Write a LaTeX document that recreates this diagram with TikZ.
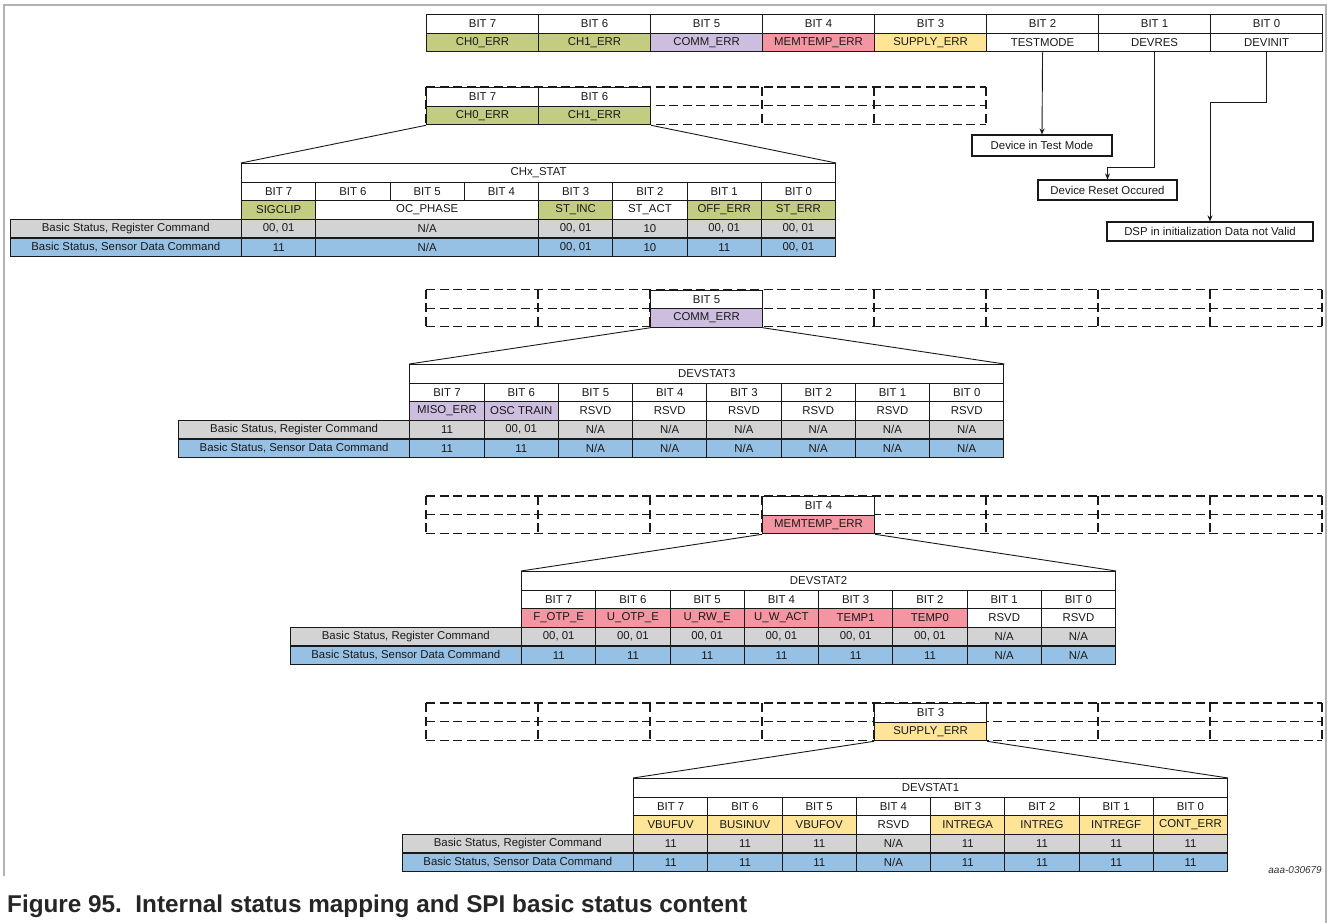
\documentclass[tikz,border=0pt]{standalone}
\usepackage{fontspec}
\setmainfont{Liberation Sans}
\usetikzlibrary{positioning,arrows.meta}

\definecolor{olv}{RGB}{196,204,130}
\definecolor{prp}{RGB}{205,190,224}
\definecolor{pnk}{RGB}{244,150,162}
\definecolor{ylw}{RGB}{253,228,150}
\definecolor{gry}{RGB}{211,211,211}
\definecolor{blu}{RGB}{150,193,229}
\newcommand{\nacell}{N/A}
\newcommand{\zocell}{00, 01}

\begin{document}
\begin{tikzpicture}[x=1pt,y=-1pt,
    cell/.style={draw=black!90, line width=1.1pt, fill=white, inner sep=0pt, anchor=north west,
      minimum width=74.25pt, minimum height=18.6pt, text=black!90, font=\fontsize{11.4}{13}\selectfont},
    regcell/.style={cell, minimum width=112pt},
    lblcell/.style={cell, minimum width=231.5pt},
    note/.style={draw=black!90, line width=1.1pt, inner sep=0pt, text=black!90, font=\fontsize{11.4}{13}\selectfont},
    dashreg/.style={black!90, line width=1.1pt, dash pattern=on 9pt off 4.5pt},
    fan/.style={black!90, line width=0.9pt},
    arr/.style={black!90, line width=0.9pt, -{Stealth[length=6pt,width=5pt]}}]
        \useasboundingbox (0,0) rectangle (1328,923);
        \draw[gray!60, line width=1.5pt] (4,876) -- (4,5) -- (1326,5) -- (1326,923);

        % main register
        \foreach \nm/\cl [count=\i from 0] in {CH0\_ERR/olv, CH1\_ERR/olv, COMM\_ERR/prp, MEMTEMP\_ERR/pnk,
            SUPPLY\_ERR/ylw, TESTMODE/white, DEVRES/white, DEVINIT/white} {
            \pgfmathtruncatemacro\b{7-\i}
            \node[regcell] (b\b) at ({426+112*\i},14) {BIT \b};
            \node[regcell, fill=\cl] (f\b) at ({426+112*\i},32.6) {\nm};
        }
        \node[note, minimum width=140pt, minimum height=21pt] (tm) at (1042,145.5) {Device in Test Mode};
        \node[note, minimum width=139pt, minimum height=20pt] (dr) at (1107.5,190) {Device Reset Occured};
        \node[note, minimum width=206pt, minimum height=19pt] (di) at (1210,231.5) {DSP in initialization Data not Valid};
        \draw[arr] (f2.south) -- (tm.north);
        \draw[arr] (f1.south) -- ++(0,115) -| (dr.north);
        \draw[arr] (f0.south) -- ++(0,50) -| (di.north);

        % dashed copies of the register
        \foreach \y/\xb in {87/986, 289.5/1322, 496/1322, 703/1322} {
            \foreach \dy in {0,18.6,37.2}
                \draw[dashreg] (426,{\y+\dy}) -- (\xb,{\y+\dy});
            \foreach \x in {426,538,...,\xb}
                \draw[dashreg] (\x,\y) -- (\x,{\y+37.2});
        }
        \node[regcell] (cb7) at (426,87) {BIT 7};
        \node[regcell, fill=olv] (cf7) at (426,105.6) {CH0\_ERR};
        \node[regcell] (cb6) at (538,87) {BIT 6};
        \node[regcell, fill=olv] (cf6) at (538,105.6) {CH1\_ERR};
        \node[regcell] (mb5) at (650,289.5) {BIT 5};
        \node[regcell, fill=prp] (mf5) at (650,308.1) {COMM\_ERR};
        \node[regcell] (tb4) at (762,496) {BIT 4};
        \node[regcell, fill=pnk] (tf4) at (762,514.6) {MEMTEMP\_ERR};
        \node[regcell] (sb3) at (874,703) {BIT 3};
        \node[regcell, fill=ylw] (sf3) at (874,721.6) {SUPPLY\_ERR};

        % status tables
        \foreach \t/\x/\y/\ttl in {chx/241/163/CHx\_STAT, ds3/409.3/364/DEVSTAT3, ds2/521/571/DEVSTAT2, ds1/633/778/DEVSTAT1} {
            \node[cell, minimum width=594pt] (\t) at (\x,\y) {\ttl};
            \foreach \i in {0,...,7} {
                \pgfmathtruncatemacro\b{7-\i}
                \node[cell] (\t-b\b) at ({\x+74.25*\i},{\y+18.6}) {BIT \b};
            }
            \node[lblcell, fill=gry] (\t-reg) at ({\x-231.5},{\y+55.8}) {Basic Status, Register Command};
            \node[lblcell, fill=blu] (\t-spi) at ({\x-231.5},{\y+74.4}) {Basic Status, Sensor Data Command};
        }
        \foreach \c/\s/\nm/\cl/\rg/\sd in {0/1/SIGCLIP/olv/\zocell/11, 1/3/OC\_PHASE/white/\nacell/\nacell,
            4/1/ST\_INC/olv/\zocell/\zocell, 5/1/ST\_ACT/white/10/10, 6/1/OFF\_ERR/olv/\zocell/11,
            7/1/ST\_ERR/olv/\zocell/\zocell} {
            \node[cell, fill=\cl, minimum width={\s*74.25pt}] (chx-n\c) at ({241+74.25*\c},200.2) {\nm};
            \node[cell, fill=gry, minimum width={\s*74.25pt}] (chx-r\c) at ({241+74.25*\c},218.8) {\rg};
            \node[cell, fill=blu, minimum width={\s*74.25pt}] (chx-s\c) at ({241+74.25*\c},237.4) {\sd};
        }
        \foreach \nm/\cl/\rg/\sd [count=\i from 0] in {MISO\_ERR/prp/11/11, OSC TRAIN/prp/\zocell/11,
            RSVD/white/\nacell/\nacell, RSVD/white/\nacell/\nacell, RSVD/white/\nacell/\nacell,
            RSVD/white/\nacell/\nacell, RSVD/white/\nacell/\nacell, RSVD/white/\nacell/\nacell} {
            \node[cell, fill=\cl] (ds3-n\i) at ({409.3+74.25*\i},401.2) {\nm};
            \node[cell, fill=gry] (ds3-r\i) at ({409.3+74.25*\i},419.8) {\rg};
            \node[cell, fill=blu] (ds3-s\i) at ({409.3+74.25*\i},438.4) {\sd};
        }
        \foreach \nm/\cl/\rg/\sd [count=\i from 0] in {F\_OTP\_E/pnk/\zocell/11, U\_OTP\_E/pnk/\zocell/11,
            U\_RW\_E/pnk/\zocell/11, U\_W\_ACT/pnk/\zocell/11, TEMP1/pnk/\zocell/11, TEMP0/pnk/\zocell/11,
            RSVD/white/\nacell/\nacell, RSVD/white/\nacell/\nacell} {
            \node[cell, fill=\cl] (ds2-n\i) at ({521+74.25*\i},608.2) {\nm};
            \node[cell, fill=gry] (ds2-r\i) at ({521+74.25*\i},626.8) {\rg};
            \node[cell, fill=blu] (ds2-s\i) at ({521+74.25*\i},645.4) {\sd};
        }
        \foreach \nm/\cl/\rg/\sd [count=\i from 0] in {VBUFUV/ylw/11/11, BUSINUV/ylw/11/11, VBUFOV/ylw/11/11,
            RSVD/white/\nacell/\nacell, INTREGA/ylw/11/11, INTREG/ylw/11/11, INTREGF/ylw/11/11,
            CONT\_ERR/ylw/11/11} {
            \node[cell, fill=\cl] (ds1-n\i) at ({633+74.25*\i},815.2) {\nm};
            \node[cell, fill=gry] (ds1-r\i) at ({633+74.25*\i},833.8) {\rg};
            \node[cell, fill=blu] (ds1-s\i) at ({633+74.25*\i},852.4) {\sd};
        }

        % fans from register bits to tables
        \draw[fan] (cf7.south west) -- (chx.north west);
        \draw[fan] (cf6.south east) -- (chx.north east);
        \draw[fan] (mf5.south west) -- (ds3.north west);
        \draw[fan] (mf5.south east) -- (ds3.north east);
        \draw[fan] (tf4.south west) -- (ds2.north west);
        \draw[fan] (tf4.south east) -- (ds2.north east);
        \draw[fan] (sf3.south west) -- (ds1.north west);
        \draw[fan] (sf3.south east) -- (ds1.north east);

        \node[anchor=east, inner sep=0pt, text=black!80, font=\fontsize{10}{12}\selectfont\itshape] (docid) at (1322,870) {aaa-030679};
        \node[anchor=base west, inner sep=0pt, text=black!85, font=\fontsize{24.3}{28}\selectfont\bfseries] (caption) at (7,912)
            {Figure 95.\ \ Internal status mapping and SPI basic status content};
    \end{tikzpicture}
\end{document}
